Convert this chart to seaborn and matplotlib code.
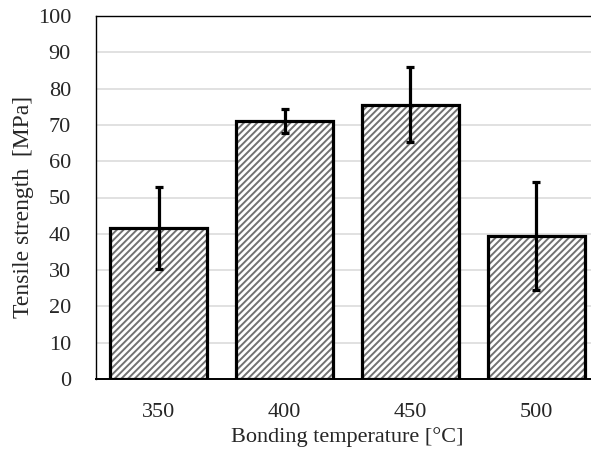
import numpy as np
import pandas as pd
import matplotlib
matplotlib.use('Agg')
import matplotlib.pyplot as plt
import seaborn as sns

temps = ['350', '400', '450', '500']
strength = [41.6, 71.1, 75.6, 39.4]
err = [11.3, 3.4, 10.3, 15.0]

sns.set_style('white')
plt.rcParams['font.family'] = ['Liberation Serif', 'DejaVu Serif']
plt.rcParams['hatch.linewidth'] = 1.4

df = pd.DataFrame({'temp': temps, 'strength': strength})

fig = plt.figure(figsize=(5.91, 4.53), dpi=100)
ax = fig.add_axes([96 / 591, 74 / 453, 503 / 591, 363 / 453])

# hatched fill
sns.barplot(data=df, x='temp', y='strength', color='white', edgecolor='#727272',
            hatch='/////', linewidth=0, width=0.77, ax=ax, zorder=2)
# black outline
sns.barplot(data=df, x='temp', y='strength', fill=False, edgecolor='black',
            linewidth=2.3, width=0.77, ax=ax, zorder=3)

ax.errorbar(np.arange(len(temps)), strength, yerr=err, fmt='none', ecolor='black',
            elinewidth=2.3, capsize=3, capthick=2.3, zorder=4)

ax.set_xlim(-0.5, 3.5)
ax.set_ylim(0, 100)
ax.set_yticks(range(0, 101, 10))
ax.yaxis.grid(True, color='#d9d9d9', linewidth=1.1, zorder=0)
ax.set_axisbelow(True)

for s in ['top', 'left']:
    ax.spines[s].set_color('black')
    ax.spines[s].set_linewidth(1.0)
ax.spines['bottom'].set_color('black')
ax.spines['bottom'].set_linewidth(1.4)
ax.spines['right'].set_visible(False)

ax.tick_params(axis='both', length=0, labelsize=16)
ax.tick_params(axis='y', pad=18)
ax.tick_params(axis='x', pad=17)

ax.set_xlabel('Bonding temperature [°C]', fontsize=16, labelpad=4)
ax.set_ylabel('Tensile strength  [MPa]', fontsize=17)
ax.yaxis.set_label_coords(-0.124, 0.474)

fig.savefig('out.png', dpi=100)
